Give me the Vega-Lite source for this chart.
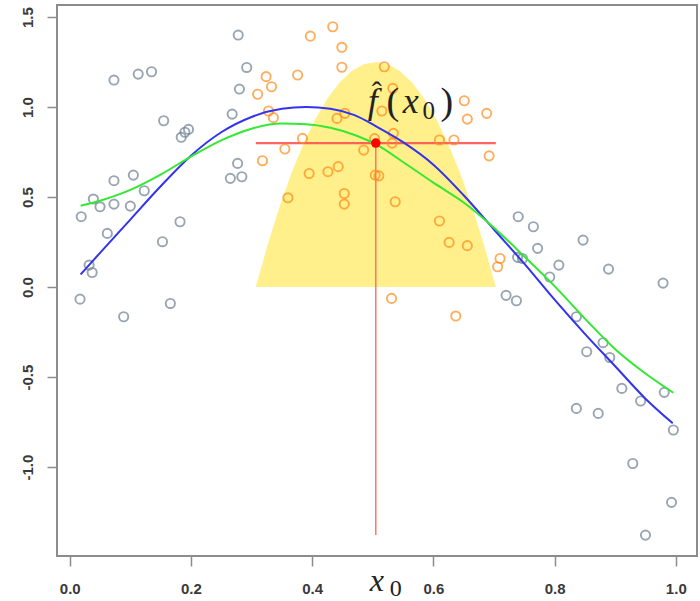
{
  "$schema": "https://vega.github.io/schema/vega-lite/v6.json",
  "width": 640,
  "height": 551,
  "autosize": {"type": "none"},
  "padding": {"left": 57, "top": 5, "right": 3, "bottom": 45},
  "background": "white",
  "config": {
    "view": {"stroke": "#8c8c8c", "strokeWidth": 2},
    "axis": {"grid": false, "domain": false, "title": null, "tickSize": 10, "tickColor": "#8c8c8c", "tickWidth": 1.5, "labelFont": "Liberation Sans", "labelFontSize": 15, "labelFontWeight": "bold", "labelColor": "#3a3a3a", "labelFlush": false, "labelOverlap": false}
  },
  "datasets": {
    "gray": [
      {"x": 0.073, "y": 1.15}, {"x": 0.113, "y": 1.183}, {"x": 0.135, "y": 1.196}, {"x": 0.155, "y": 0.924},
      {"x": 0.184, "y": 0.832}, {"x": 0.19, "y": 0.86}, {"x": 0.196, "y": 0.876}, {"x": 0.105, "y": 0.622},
      {"x": 0.073, "y": 0.591}, {"x": 0.123, "y": 0.535}, {"x": 0.039, "y": 0.489}, {"x": 0.05, "y": 0.446},
      {"x": 0.073, "y": 0.461}, {"x": 0.1, "y": 0.45}, {"x": 0.019, "y": 0.391}, {"x": 0.182, "y": 0.363},
      {"x": 0.062, "y": 0.298}, {"x": 0.153, "y": 0.252}, {"x": 0.032, "y": 0.122}, {"x": 0.037, "y": 0.081},
      {"x": 0.017, "y": -0.067}, {"x": 0.089, "y": -0.165}, {"x": 0.166, "y": -0.091},
      {"x": 0.278, "y": 1.4}, {"x": 0.292, "y": 1.22}, {"x": 0.28, "y": 1.1}, {"x": 0.268, "y": 0.961},
      {"x": 0.277, "y": 0.687}, {"x": 0.265, "y": 0.604}, {"x": 0.284, "y": 0.613},
      {"x": 0.74, "y": 0.391}, {"x": 0.765, "y": 0.335}, {"x": 0.772, "y": 0.215}, {"x": 0.739, "y": 0.165},
      {"x": 0.747, "y": 0.159}, {"x": 0.807, "y": 0.122}, {"x": 0.792, "y": 0.056}, {"x": 0.847, "y": 0.261},
      {"x": 0.889, "y": 0.1}, {"x": 0.979, "y": 0.022}, {"x": 0.72, "y": -0.046}, {"x": 0.737, "y": -0.076},
      {"x": 0.836, "y": -0.165}, {"x": 0.853, "y": -0.359}, {"x": 0.88, "y": -0.309}, {"x": 0.891, "y": -0.391},
      {"x": 0.911, "y": -0.563}, {"x": 0.942, "y": -0.633}, {"x": 0.981, "y": -0.585}, {"x": 0.996, "y": -0.794},
      {"x": 0.836, "y": -0.674}, {"x": 0.872, "y": -0.702}, {"x": 0.929, "y": -0.98}, {"x": 0.993, "y": -1.196},
      {"x": 0.95, "y": -1.378}
    ],
    "orange": [
      {"x": 0.397, "y": 1.394}, {"x": 0.434, "y": 1.446}, {"x": 0.449, "y": 1.332}, {"x": 0.449, "y": 1.221},
      {"x": 0.376, "y": 1.178}, {"x": 0.324, "y": 1.169}, {"x": 0.333, "y": 1.113}, {"x": 0.31, "y": 1.071},
      {"x": 0.328, "y": 0.978}, {"x": 0.336, "y": 0.941}, {"x": 0.441, "y": 0.937}, {"x": 0.454, "y": 0.965},
      {"x": 0.384, "y": 0.826}, {"x": 0.355, "y": 0.767}, {"x": 0.318, "y": 0.702}, {"x": 0.485, "y": 0.761},
      {"x": 0.395, "y": 0.631}, {"x": 0.426, "y": 0.641}, {"x": 0.443, "y": 0.669}, {"x": 0.36, "y": 0.496},
      {"x": 0.453, "y": 0.52}, {"x": 0.453, "y": 0.461}, {"x": 0.503, "y": 0.825}, {"x": 0.504, "y": 0.622},
      {"x": 0.51, "y": 0.618}, {"x": 0.519, "y": 1.224}, {"x": 0.533, "y": 1.104}, {"x": 0.515, "y": 0.978},
      {"x": 0.534, "y": 0.854}, {"x": 0.532, "y": 0.8}, {"x": 0.61, "y": 0.817}, {"x": 0.634, "y": 0.817},
      {"x": 0.651, "y": 1.035}, {"x": 0.656, "y": 0.933}, {"x": 0.688, "y": 0.965}, {"x": 0.692, "y": 0.729},
      {"x": 0.537, "y": 0.474}, {"x": 0.61, "y": 0.367}, {"x": 0.626, "y": 0.248}, {"x": 0.656, "y": 0.23},
      {"x": 0.71, "y": 0.159}, {"x": 0.706, "y": 0.113}, {"x": 0.531, "y": -0.063}, {"x": 0.637, "y": -0.161}
    ],
    "kernel": [
      {"x": 0.307, "y": 0}, {"x": 0.3268, "y": 0.2375}, {"x": 0.3466, "y": 0.45}, {"x": 0.3664, "y": 0.6375},
      {"x": 0.3862, "y": 0.8}, {"x": 0.406, "y": 0.9375}, {"x": 0.4258, "y": 1.05}, {"x": 0.4456, "y": 1.1375},
      {"x": 0.4654, "y": 1.2}, {"x": 0.4852, "y": 1.2375}, {"x": 0.505, "y": 1.25}, {"x": 0.5248, "y": 1.2375},
      {"x": 0.5446, "y": 1.2}, {"x": 0.5644, "y": 1.1375}, {"x": 0.5842, "y": 1.05}, {"x": 0.604, "y": 0.9375},
      {"x": 0.6238, "y": 0.8}, {"x": 0.6436, "y": 0.6375}, {"x": 0.6634, "y": 0.45}, {"x": 0.6832, "y": 0.2375},
      {"x": 0.703, "y": 0}
    ],
    "blue": [
      {"x": 0.018, "y": 0.07}, {"x": 0.05, "y": 0.19}, {"x": 0.1, "y": 0.375}, {"x": 0.15, "y": 0.56},
      {"x": 0.2, "y": 0.73}, {"x": 0.25, "y": 0.86}, {"x": 0.3, "y": 0.945}, {"x": 0.35, "y": 0.99},
      {"x": 0.39, "y": 1.0}, {"x": 0.43, "y": 0.99}, {"x": 0.47, "y": 0.955}, {"x": 0.507, "y": 0.89},
      {"x": 0.55, "y": 0.805}, {"x": 0.6, "y": 0.68}, {"x": 0.65, "y": 0.51}, {"x": 0.7, "y": 0.32},
      {"x": 0.75, "y": 0.13}, {"x": 0.8, "y": -0.07}, {"x": 0.85, "y": -0.26}, {"x": 0.9, "y": -0.44},
      {"x": 0.95, "y": -0.62}, {"x": 0.995, "y": -0.757}
    ],
    "green": [
      {"x": 0.018, "y": 0.452}, {"x": 0.05, "y": 0.48}, {"x": 0.1, "y": 0.54}, {"x": 0.15, "y": 0.625},
      {"x": 0.2, "y": 0.725}, {"x": 0.25, "y": 0.815}, {"x": 0.3, "y": 0.88}, {"x": 0.35, "y": 0.908},
      {"x": 0.39, "y": 0.905}, {"x": 0.43, "y": 0.885}, {"x": 0.47, "y": 0.845}, {"x": 0.507, "y": 0.79},
      {"x": 0.55, "y": 0.695}, {"x": 0.6, "y": 0.58}, {"x": 0.65, "y": 0.47}, {"x": 0.7, "y": 0.33},
      {"x": 0.75, "y": 0.17}, {"x": 0.8, "y": 0.005}, {"x": 0.85, "y": -0.175}, {"x": 0.9, "y": -0.345},
      {"x": 0.95, "y": -0.48}, {"x": 0.996, "y": -0.587}
    ]
  },
  "encoding": {
    "x": {"field": "x", "type": "quantitative", "scale": {"domain": [-0.021, 1.035], "nice": false, "zero": false},
      "axis": {"values": [0, 0.2, 0.4, 0.6, 0.8, 1], "format": ".1f", "labelPadding": 15}},
    "y": {"field": "y", "type": "quantitative", "scale": {"domain": [-1.494, 1.567], "nice": false, "zero": false},
      "axis": {"values": [-1, -0.5, 0, 0.5, 1, 1.5], "labelExpr": "replace(format(datum.value, '.1f'), '\u2212', '-')", "labelAngle": -90, "labelAlign": "center", "labelBaseline": "bottom", "labelPadding": 12}}
  },
  "layer": [
    {"data": {"name": "kernel"}, "mark": {"type": "area", "color": "#FFF08C", "opacity": 1}, "encoding": {"y2": {"datum": 0}}},
    {"data": {"values": [{"x": 0.307, "x2": 0.703, "y": 0.8}]}, "mark": {"type": "rule", "color": "#FF4A4A", "strokeWidth": 2.2, "opacity": 0.85}, "encoding": {"x2": {"field": "x2"}}},
    {"data": {"values": [{"x": 0.505, "y": 0.8, "y2": -1.378}]}, "mark": {"type": "rule", "color": "#FF5A5A", "strokeWidth": 1.5, "opacity": 0.85}, "encoding": {"y2": {"field": "y2"}}},
    {"data": {"name": "gray"}, "mark": {"type": "point", "filled": false, "shape": "circle", "size": 85, "strokeWidth": 1.9, "color": "#6f8093"}},
    {"data": {"name": "orange"}, "mark": {"type": "point", "filled": false, "shape": "circle", "size": 85, "strokeWidth": 1.9, "color": "#FF8C1A"}},
    {"data": {"name": "blue"}, "mark": {"type": "line", "color": "#3333EE", "strokeWidth": 2, "interpolate": "monotone"}},
    {"data": {"name": "green"}, "mark": {"type": "line", "color": "#33E833", "strokeWidth": 2, "interpolate": "monotone"}},
    {"data": {"values": [{"x": 0.505, "y": 0.8}]}, "mark": {"type": "circle", "color": "#FF0000", "size": 90, "opacity": 1}},
    {"data": {"values": [{"x": 0.505, "y": 0.8, "t": "f"}]}, "mark": {"type": "text", "font": "Liberation Serif", "fontStyle": "italic", "fontSize": 36, "color": "#222222", "align": "center", "baseline": "alphabetic", "dx": -3, "dy": -30}, "encoding": {"text": {"field": "t"}}},
    {"data": {"values": [{"x": 0.505, "y": 0.8, "t": "ˆ"}]}, "mark": {"type": "text", "font": "Liberation Serif", "fontSize": 30, "color": "#222222", "align": "center", "baseline": "alphabetic", "dx": 1, "dy": -41}, "encoding": {"text": {"field": "t"}}},
    {"data": {"values": [{"x": 0.505, "y": 0.8, "t": "("}]}, "mark": {"type": "text", "font": "Liberation Serif", "fontSize": 38, "color": "#222222", "align": "center", "baseline": "alphabetic", "dx": 17, "dy": -29}, "encoding": {"text": {"field": "t"}}},
    {"data": {"values": [{"x": 0.505, "y": 0.8, "t": "x"}]}, "mark": {"type": "text", "font": "Liberation Serif", "fontStyle": "italic", "fontSize": 36, "color": "#222222", "align": "center", "baseline": "alphabetic", "dx": 35, "dy": -30}, "encoding": {"text": {"field": "t"}}},
    {"data": {"values": [{"x": 0.505, "y": 0.8, "t": "0"}]}, "mark": {"type": "text", "font": "Liberation Serif", "fontSize": 25, "color": "#222222", "align": "center", "baseline": "alphabetic", "dx": 53, "dy": -24}, "encoding": {"text": {"field": "t"}}},
    {"data": {"values": [{"x": 0.505, "y": 0.8, "t": ")"}]}, "mark": {"type": "text", "font": "Liberation Serif", "fontSize": 38, "color": "#222222", "align": "center", "baseline": "alphabetic", "dx": 71, "dy": -29}, "encoding": {"text": {"field": "t"}}},
    {"data": {"values": [{"x": 0.505, "y": -1.694, "t": "x"}]}, "mark": {"type": "text", "font": "Liberation Serif", "fontStyle": "italic", "fontSize": 32, "color": "#222222", "align": "center", "baseline": "alphabetic", "dx": 1, "dy": -1}, "encoding": {"text": {"field": "t"}}},
    {"data": {"values": [{"x": 0.505, "y": -1.694, "t": "0"}]}, "mark": {"type": "text", "font": "Liberation Serif", "fontSize": 24, "color": "#222222", "align": "center", "baseline": "alphabetic", "dx": 20, "dy": 4}, "encoding": {"text": {"field": "t"}}}
  ]
}
